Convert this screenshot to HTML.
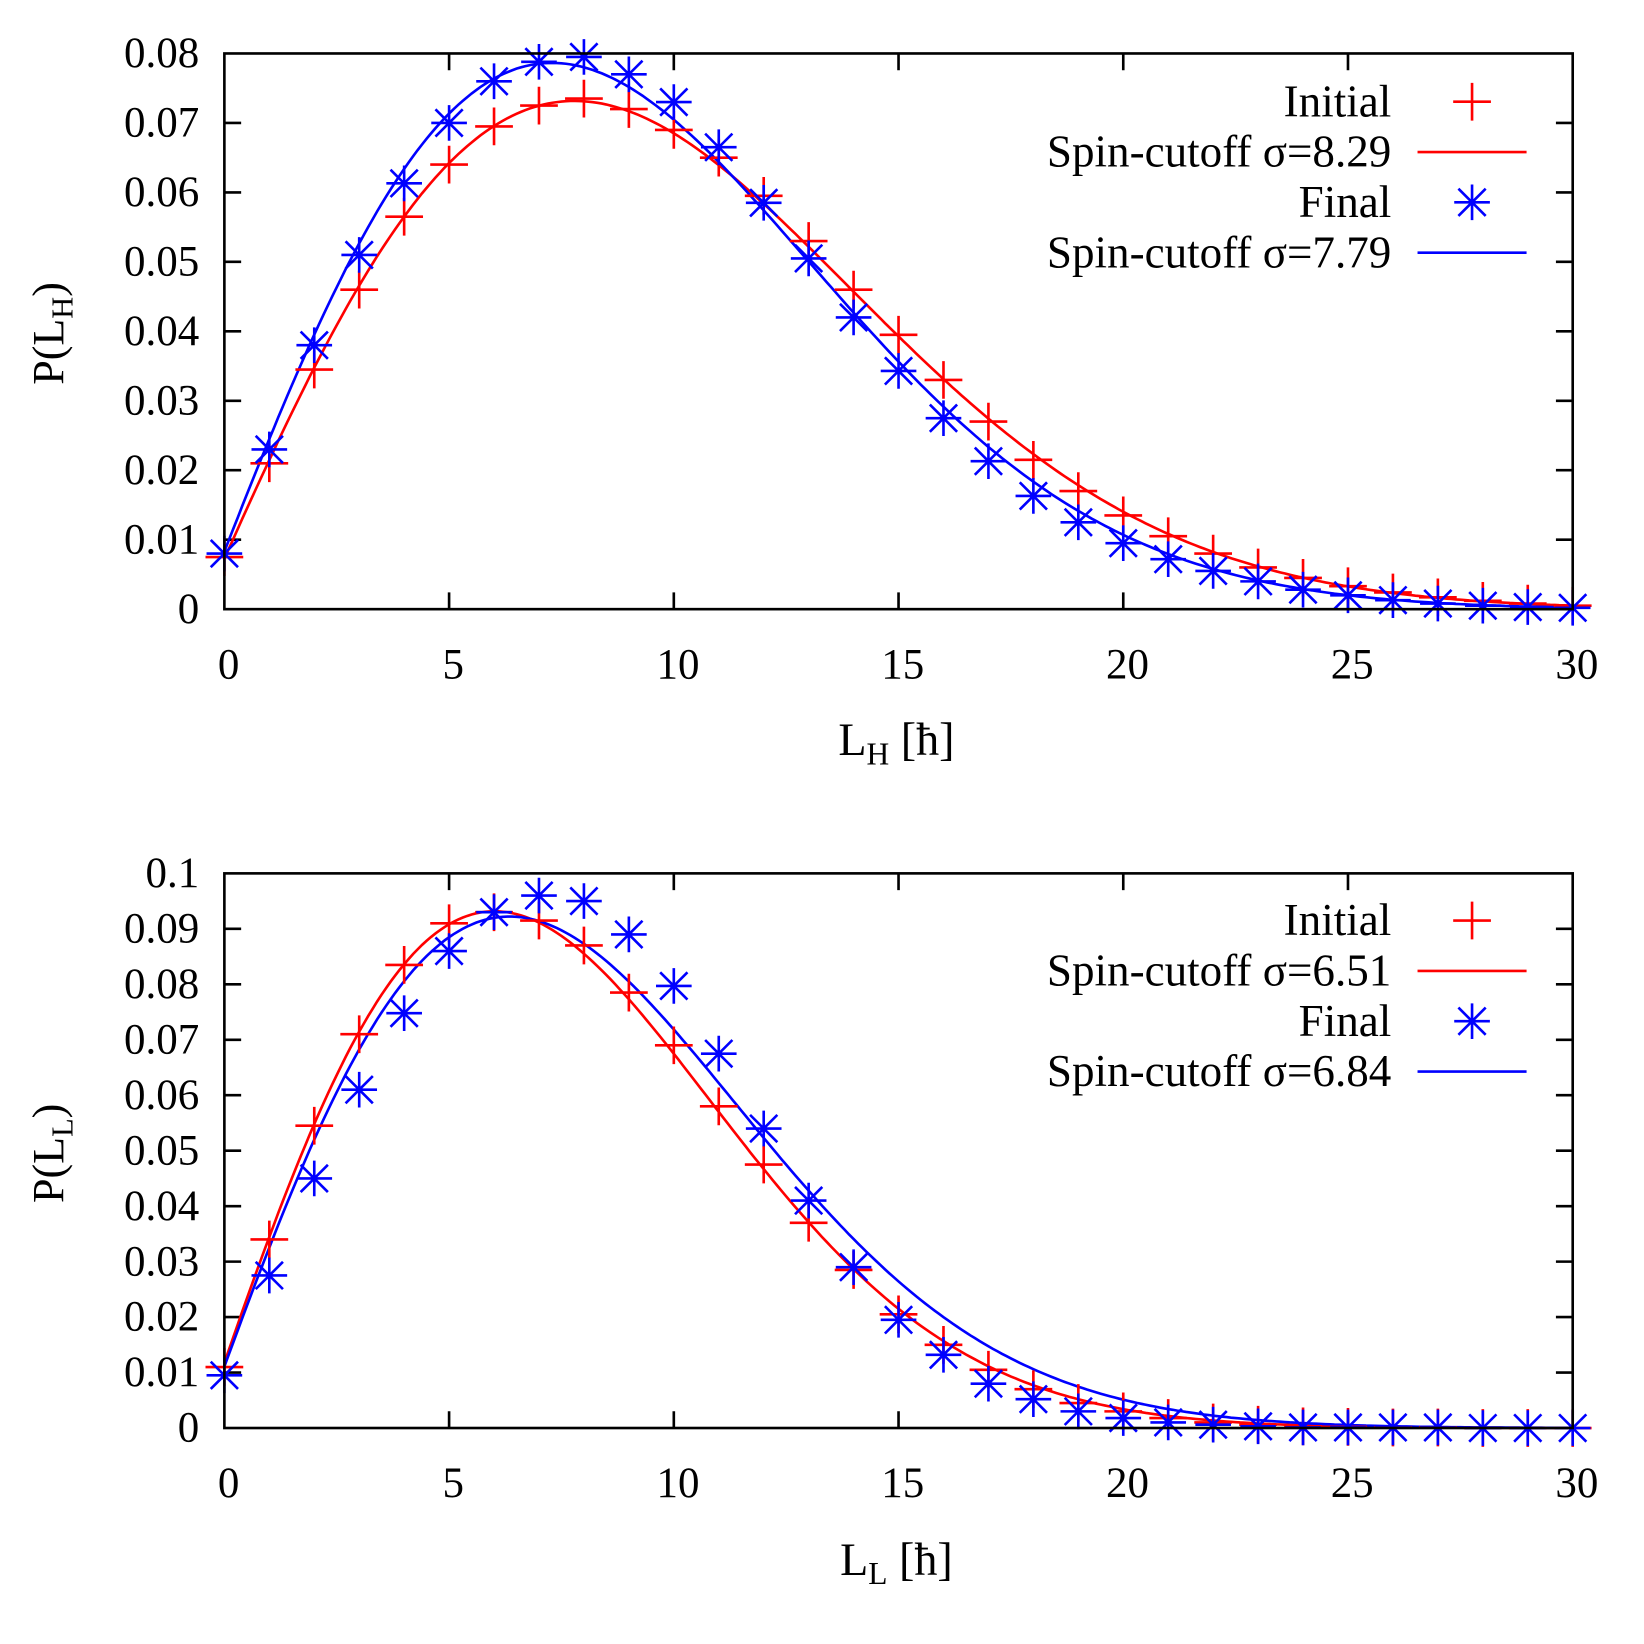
<!DOCTYPE html>
<html><head><meta charset="utf-8"><style>body{margin:0;background:#fff}svg{display:block}</style></head>
<body>
<svg id="s" xmlns="http://www.w3.org/2000/svg" width="1644" height="1644" viewBox="0 0 1568 1568" font-family="Liberation Serif, serif" font-size="41">
<rect width="1568" height="1568" fill="#fff"/>
<g id="g"></g>
<text x="855" y="720" text-anchor="middle" font-size="44">L<tspan font-size="30" dy="9">H</tspan><tspan dy="-9"> [ħ]</tspan></text>
<text x="855" y="1502" text-anchor="middle" font-size="44">L<tspan font-size="30" dy="9">L</tspan><tspan dy="-9"> [ħ]</tspan></text>
<text transform="translate(60,318) rotate(-90)" text-anchor="middle" font-size="42">P(L<tspan font-size="29" dy="9">H</tspan><tspan dy="-9">)</tspan></text>
<text transform="translate(60,1100) rotate(-90)" text-anchor="middle" font-size="42">P(L<tspan font-size="29" dy="9">L</tspan><tspan dy="-9">)</tspan></text>
<g text-anchor="end" font-size="43">
<text x="1327" y="111">Initial</text>
<text x="1327" y="159">Spin-cutoff σ=8.29</text>
<text x="1327" y="207">Final</text>
<text x="1327" y="255">Spin-cutoff σ=7.79</text>
<text x="1327" y="892">Initial</text>
<text x="1327" y="940">Spin-cutoff σ=6.51</text>
<text x="1327" y="988">Final</text>
<text x="1327" y="1036">Spin-cutoff σ=6.84</text>
</g>
</svg>
<script>
var g=document.getElementById('g'),NS='http://www.w3.org/2000/svg';
function el(t,a,txt){var e=document.createElementNS(NS,t);for(var k in a)e.setAttribute(k,a[k]);if(txt!==undefined)e.textContent=txt;g.appendChild(e);return e;}
var L=214,R=1500,xs=(R-L)/30;
function plus(x,y){el('path',{d:'M'+(x-18)+' '+y+'H'+(x+18)+'M'+x+' '+(y-18)+'V'+(y+18),stroke:'#f00','stroke-width':2.5,fill:'none'});}
function star(x,y){el('path',{d:'M'+(x-17)+' '+y+'H'+(x+17)+'M'+x+' '+(y-17)+'V'+(y+17)+'M'+(x-13)+' '+(y-13)+'L'+(x+13)+' '+(y+13)+'M'+(x-13)+' '+(y+13)+'L'+(x+13)+' '+(y-13),stroke:'#00f','stroke-width':2.5,fill:'none'});}
function panel(T,B,ymax,ystep,s1,s2,f2,d1,d2,ly){
  var ys=(B-T)/ymax;function Y(v){return B-v*ys;}function X(v){return L+v*xs;}
  var n=Math.round(ymax/ystep);
  for(var i=0;i<=n;i++){var v=i*ystep,y=Y(v);
    if(i>0&&i<n){el('line',{x1:L,x2:L+16,y1:y,y2:y,stroke:'#000','stroke-width':2.5});el('line',{x1:R-16,x2:R,y1:y,y2:y,stroke:'#000','stroke-width':2.5});}
    el('text',{x:190,y:y+13,'text-anchor':'end'},i==0?'0':(i==n&&ymax==0.1?'0.1':v.toFixed(2)));}
  for(var i=0;i<=6;i++){var x=X(i*5);
    if(i>0&&i<6){el('line',{x1:x,x2:x,y1:B,y2:B-16,stroke:'#000','stroke-width':2.5});el('line',{x1:x,x2:x,y1:T,y2:T+16,stroke:'#000','stroke-width':2.5});}
    el('text',{x:x+4,y:B+66,'text-anchor':'middle'},String(i*5));}
  function curve(s,c,f){var d='';for(var l=0;l<=30.001;l+=0.1){var p=f*(2*l+1)/(2*s*s)*Math.exp(-(l+.5)*(l+.5)/(2*s*s));d+=(d?'L':'M')+X(l).toFixed(1)+' '+Y(p).toFixed(1);}
    el('path',{d:d,stroke:c,'stroke-width':2.5,fill:'none'});}
  curve(s1,'#f00',1);curve(s2,'#00f',f2);
  d1.forEach(function(v,i){plus(X(i),Y(v));});
  d2.forEach(function(v,i){star(X(i),Y(v));});
  plus(1404,ly);el('line',{x1:1352,x2:1456,y1:ly+48,y2:ly+48,stroke:'#f00','stroke-width':2.5});
  star(1404,ly+96);el('line',{x1:1352,x2:1456,y1:ly+144,y2:ly+144,stroke:'#00f','stroke-width':2.5});
  el('rect',{x:L,y:T,width:R-L,height:B-T,fill:'none',stroke:'#000','stroke-width':2.5});
}
panel(51,581,0.08,0.01,8.29,7.79,1.01,
[.0075,.021,.0345,.046,.0565,.064,.0695,.0725,.0735,.072,.069,.065,.0595,.053,.046,.0395,.033,.027,.0215,.017,.0135,.0105,.008,.006,.0045,.0033,.0024,.0017,.0012,.0008,.0005],
[.008,.023,.038,.051,.0613,.070,.076,.0788,.0795,.077,.073,.0665,.0585,.0505,.042,.0343,.0275,.0213,.0163,.0125,.0095,.0072,.0055,.004,.0028,.002,.0013,.0008,.0005,.0003,.0002],97);
panel(833,1362,0.1,0.01,6.51,6.84,1.04,
[.011,.034,.0545,.071,.0835,.091,.093,.0915,.087,.0785,.069,.058,.0475,.037,.0285,.0205,.015,.0105,.007,.0045,.003,.0018,.001,.0006,.0003,.0002,.0001,.0001,0,0,0],
[.0095,.0275,.045,.061,.0748,.086,.093,.096,.095,.089,.0797,.0675,.054,.041,.029,.0195,.0132,.008,.0052,.003,.0018,.001,.0006,.0003,.0001,.0001,.0001,.0001,0,0,0],878);
</script>
</body></html>
